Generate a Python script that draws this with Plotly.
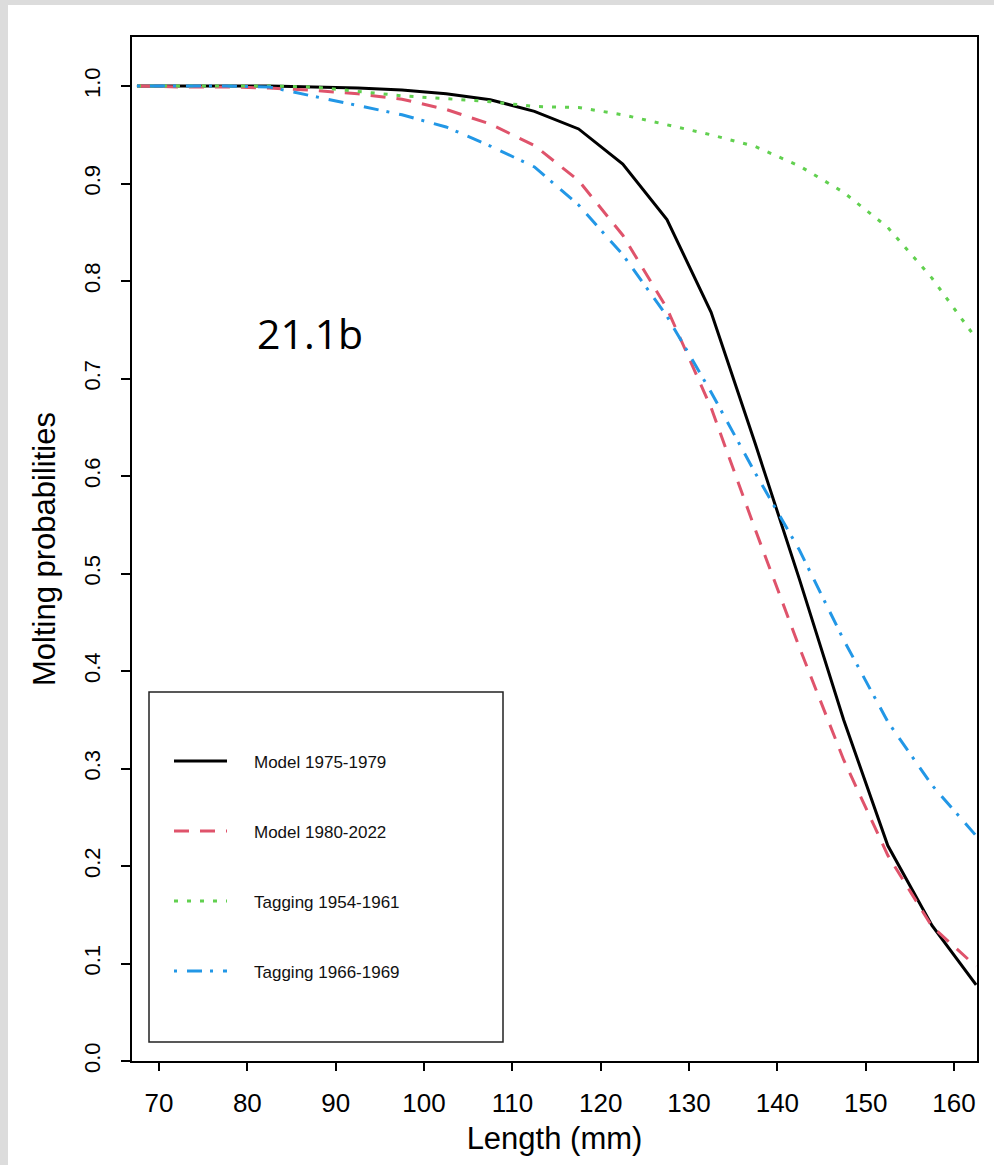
import plotly.graph_objects as go

# ---------------- data ----------------
length_mm = [67.5, 72.5, 77.5, 82.5, 87.5, 92.5, 97.5, 102.5, 107.5, 112.5,
             117.5, 122.5, 127.5, 132.5, 137.5, 142.5, 147.5, 152.5, 157.5, 162.5]
model_1975_1979 = [1.0, 1.0, 1.0, 1.0, 0.999, 0.998, 0.996, 0.992, 0.986, 0.974,
                   0.956, 0.920, 0.863, 0.768, 0.633, 0.494, 0.350, 0.221, 0.139, 0.078]
model_1980_2022 = [1.0, 0.999, 0.999, 0.998, 0.9955, 0.992, 0.9865, 0.976, 0.961, 0.939,
                   0.903, 0.847, 0.772, 0.670, 0.545, 0.424, 0.309, 0.211, 0.138, 0.097]
tagging_1954_1961 = [1.0, 1.0, 1.0, 1.0, 0.999, 0.9945, 0.990, 0.987, 0.984, 0.979,
                     0.978, 0.9705, 0.9605, 0.950, 0.938, 0.918, 0.891, 0.855, 0.803, 0.741]
tagging_1966_1969 = [1.0, 1.0, 1.0, 0.999, 0.9895, 0.980, 0.9705, 0.958, 0.9385, 0.917,
                     0.878, 0.827, 0.764, 0.686, 0.603, 0.524, 0.432, 0.348, 0.283, 0.231]
series_names = ["Model 1975-1979", "Model 1980-2022", "Tagging 1954-1961", "Tagging 1966-1969"]
x_ticks = [70, 80, 90, 100, 110, 120, 130, 140, 150, 160]
y_ticks = [0.0, 0.1, 0.2, 0.3, 0.4, 0.5, 0.6, 0.7, 0.8, 0.9, 1.0]
panel_label = "21.1b"

# ---------------- styles ----------------
colors = ["#000000", "#DF536B", "#61D04F", "#2297E6"]
dashes = ["solid", "15px,11px", "4px,9px", "3px,10px,15px,8px"]
W, H = 994, 1165
L, R, T, B = 132, 977, 37, 1061  # plot area in pixels
FONT = "Liberation Sans, Arial, sans-serif"


def px(xp):
    return (xp - L) / (R - L)


def py(yp):
    return (B - yp) / (B - T)


fig = go.Figure()
all_series = [model_1975_1979, model_1980_2022, tagging_1954_1961, tagging_1966_1969]
for name, vals, c, d in zip(series_names, all_series, colors, dashes):
    fig.add_trace(go.Scatter(x=length_mm, y=vals, mode="lines", name=name,
                             line=dict(color=c, width=3, dash=d), showlegend=False))

shapes = []
annotations = []
# white page panel over grey textured border
shapes.append(dict(type="rect", xref="paper", yref="paper", layer="below",
                   x0=px(8), x1=px(W + 5), y0=py(H + 5), y1=py(5),
                   fillcolor="white", line=dict(width=0)))
# legend box
shapes.append(dict(type="rect", xref="paper", yref="paper",
                   x0=px(149), x1=px(503), y0=py(1042), y1=py(692),
                   fillcolor="rgba(0,0,0,0)", line=dict(color="#222222", width=1.5)))
leg_y = [761, 831, 901, 971]
for name, c, d, yy in zip(series_names, colors, dashes, leg_y):
    shapes.append(dict(type="line", xref="paper", yref="paper",
                       x0=px(174), x1=px(227), y0=py(yy), y1=py(yy),
                       line=dict(color=c, width=3, dash=d)))
    annotations.append(dict(text=name, xref="paper", yref="paper", x=px(252), y=py(yy + 1),
                            xanchor="left", yanchor="middle", showarrow=False,
                            font=dict(family=FONT, size=17, color="#111111")))
annotations.append(dict(text=panel_label, xref="paper", yref="paper", x=px(310), y=py(333),
                        xanchor="center", yanchor="middle", showarrow=False,
                        font=dict(family="Open Sans, Noto Sans, sans-serif", size=41, color="black")))

fig.update_layout(
    width=W, height=H,
    margin=dict(l=L, r=W - R, t=T, b=H - B, pad=0),
    paper_bgcolor="#dcdcdc",
    plot_bgcolor="white",
    shapes=shapes,
    annotations=annotations,
    font=dict(family=FONT, color="black"),
    xaxis=dict(range=[66.94, 162.6], tickvals=x_ticks, ticktext=[str(v) for v in x_ticks],
               showgrid=False, zeroline=False, showline=True, mirror=True,
               linecolor="black", linewidth=1.5, ticks="outside", ticklen=8,
               tickwidth=1.5, tickcolor="black", tickfont=dict(size=26, family=FONT),
               ticklabelstandoff=10,
               title=dict(text="Length (mm)", font=dict(size=31, family=FONT), standoff=10)),
    yaxis=dict(range=[0, 1.0503], tickvals=y_ticks, ticktext=["%.1f" % v for v in y_ticks],
               tickangle=-90,
               showgrid=False, zeroline=False, showline=True, mirror=True,
               linecolor="black", linewidth=1.5, ticks="outside", ticklen=9,
               tickwidth=1.5, tickcolor="black", tickfont=dict(size=22, family=FONT),
               ticklabelstandoff=12,
               title=dict(text="Molting probabilities", font=dict(size=31, family=FONT), standoff=16)),
)

fig.write_html("out.html")
